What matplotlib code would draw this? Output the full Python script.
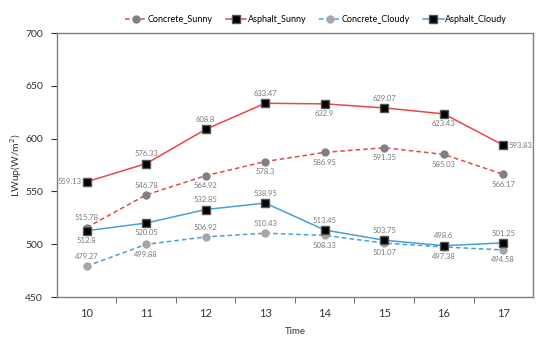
import matplotlib.pyplot as plt

plt.rcParams['font.family'] = ['Lato', 'DejaVu Sans']

# data
time = [10, 11, 12, 13, 14, 15, 16, 17]
concrete_sunny = [515.78, 546.78, 564.92, 578.3, 586.95, 591.35, 585.03, 566.17]
asphalt_sunny = [559.13, 576.33, 608.8, 633.47, 632.9, 629.07, 623.43, 593.83]
concrete_cloudy = [479.27, 499.88, 506.92, 510.43, 508.33, 501.07, 497.38, 494.58]
asphalt_cloudy = [512.8, 520.05, 532.85, 538.95, 513.45, 503.75, 498.6, 501.25]

# label placement: 'a' above, 'b' below, 'l' left, 'r' right
pos_cs = ['a', 'a', 'b', 'b', 'b', 'b', 'b', 'b']
pos_as = ['l', 'a', 'a', 'a', 'b', 'a', 'b', 'r']
pos_cc = ['a', 'b', 'a', 'a', 'b', 'b', 'b', 'b']
pos_ac = ['b', 'b', 'a', 'a', 'a', 'a', 'a', 'a']

red = '#e8474a'
blue = '#4a9fd8'

fig = plt.figure(figsize=(5.5, 3.46), dpi=100)
ax = fig.add_axes([0.1036, 0.1416, 0.8655, 0.763])

ax.plot(time, concrete_sunny, ls=(0, (3, 2)), color=red, lw=1.1, marker='o', ms=5,
        mfc='#808080', mec='#808080', label='Concrete_Sunny', zorder=3)
ax.plot(time, asphalt_sunny, ls='-', color=red, lw=1.1, marker='s', ms=5.5,
        mfc='black', mec='#555555', label='Asphalt_Sunny', zorder=4)
ax.plot(time, concrete_cloudy, ls=(0, (3, 2)), color=blue, lw=1.1, marker='o', ms=5,
        mfc='#a6a6a6', mec='#a6a6a6', label='Concrete_Cloudy', zorder=3)
ax.plot(time, asphalt_cloudy, ls='-', color=blue, lw=1.1, marker='s', ms=5.5,
        mfc='black', mec='#555555', label='Asphalt_Cloudy', zorder=4)

offsets = {'a': (0, 4.5, 'center', 'bottom'), 'b': (0, -4.5, 'center', 'top'),
           'l': (-4, 0, 'right', 'center'), 'r': (4, 0, 'left', 'center')}
for ys, ps in [(concrete_sunny, pos_cs), (asphalt_sunny, pos_as),
               (concrete_cloudy, pos_cc), (asphalt_cloudy, pos_ac)]:
    for x, y, p in zip(time, ys, ps):
        dx, dy, ha, va = offsets[p]
        ax.annotate(f'{y:g}', (x, y), xytext=(dx, dy), textcoords='offset points',
                    ha=ha, va=va, fontsize=5.5, color='#7a7a7a', zorder=5)

ax.set_xlim(9.5, 17.5)
ax.set_ylim(450, 700)
ax.set_yticks([450, 500, 550, 600, 650, 700])
ax.set_xticks(time)
ax.set_xticks([x + 0.5 for x in time[:-1]], minor=True)
ax.tick_params(axis='x', which='major', length=0, pad=8, labelsize=8, colors='#333333')
ax.tick_params(axis='x', which='minor', length=4, direction='out', color='#555555')
ax.tick_params(axis='y', length=4, direction='out', labelsize=7.5, pad=6, colors='#333333')
for s in ax.spines.values():
    s.set_color('#7f7f7f')
    s.set_linewidth(1)

ax.set_xlabel('Time', fontsize=7, color='#333333', labelpad=6)
ax.set_ylabel('LWup(W/m$^2$)', fontsize=7.5, color='#333333')
ax.yaxis.set_label_coords(-0.069, 0.5)

ax.legend(loc='lower right', bbox_to_anchor=(0.965, 1.0), ncol=4, frameon=False,
          fontsize=6.5, handlelength=2.3, columnspacing=1.4, handletextpad=0.2,
          borderaxespad=0.6)

fig.savefig('out.png', dpi=100)
